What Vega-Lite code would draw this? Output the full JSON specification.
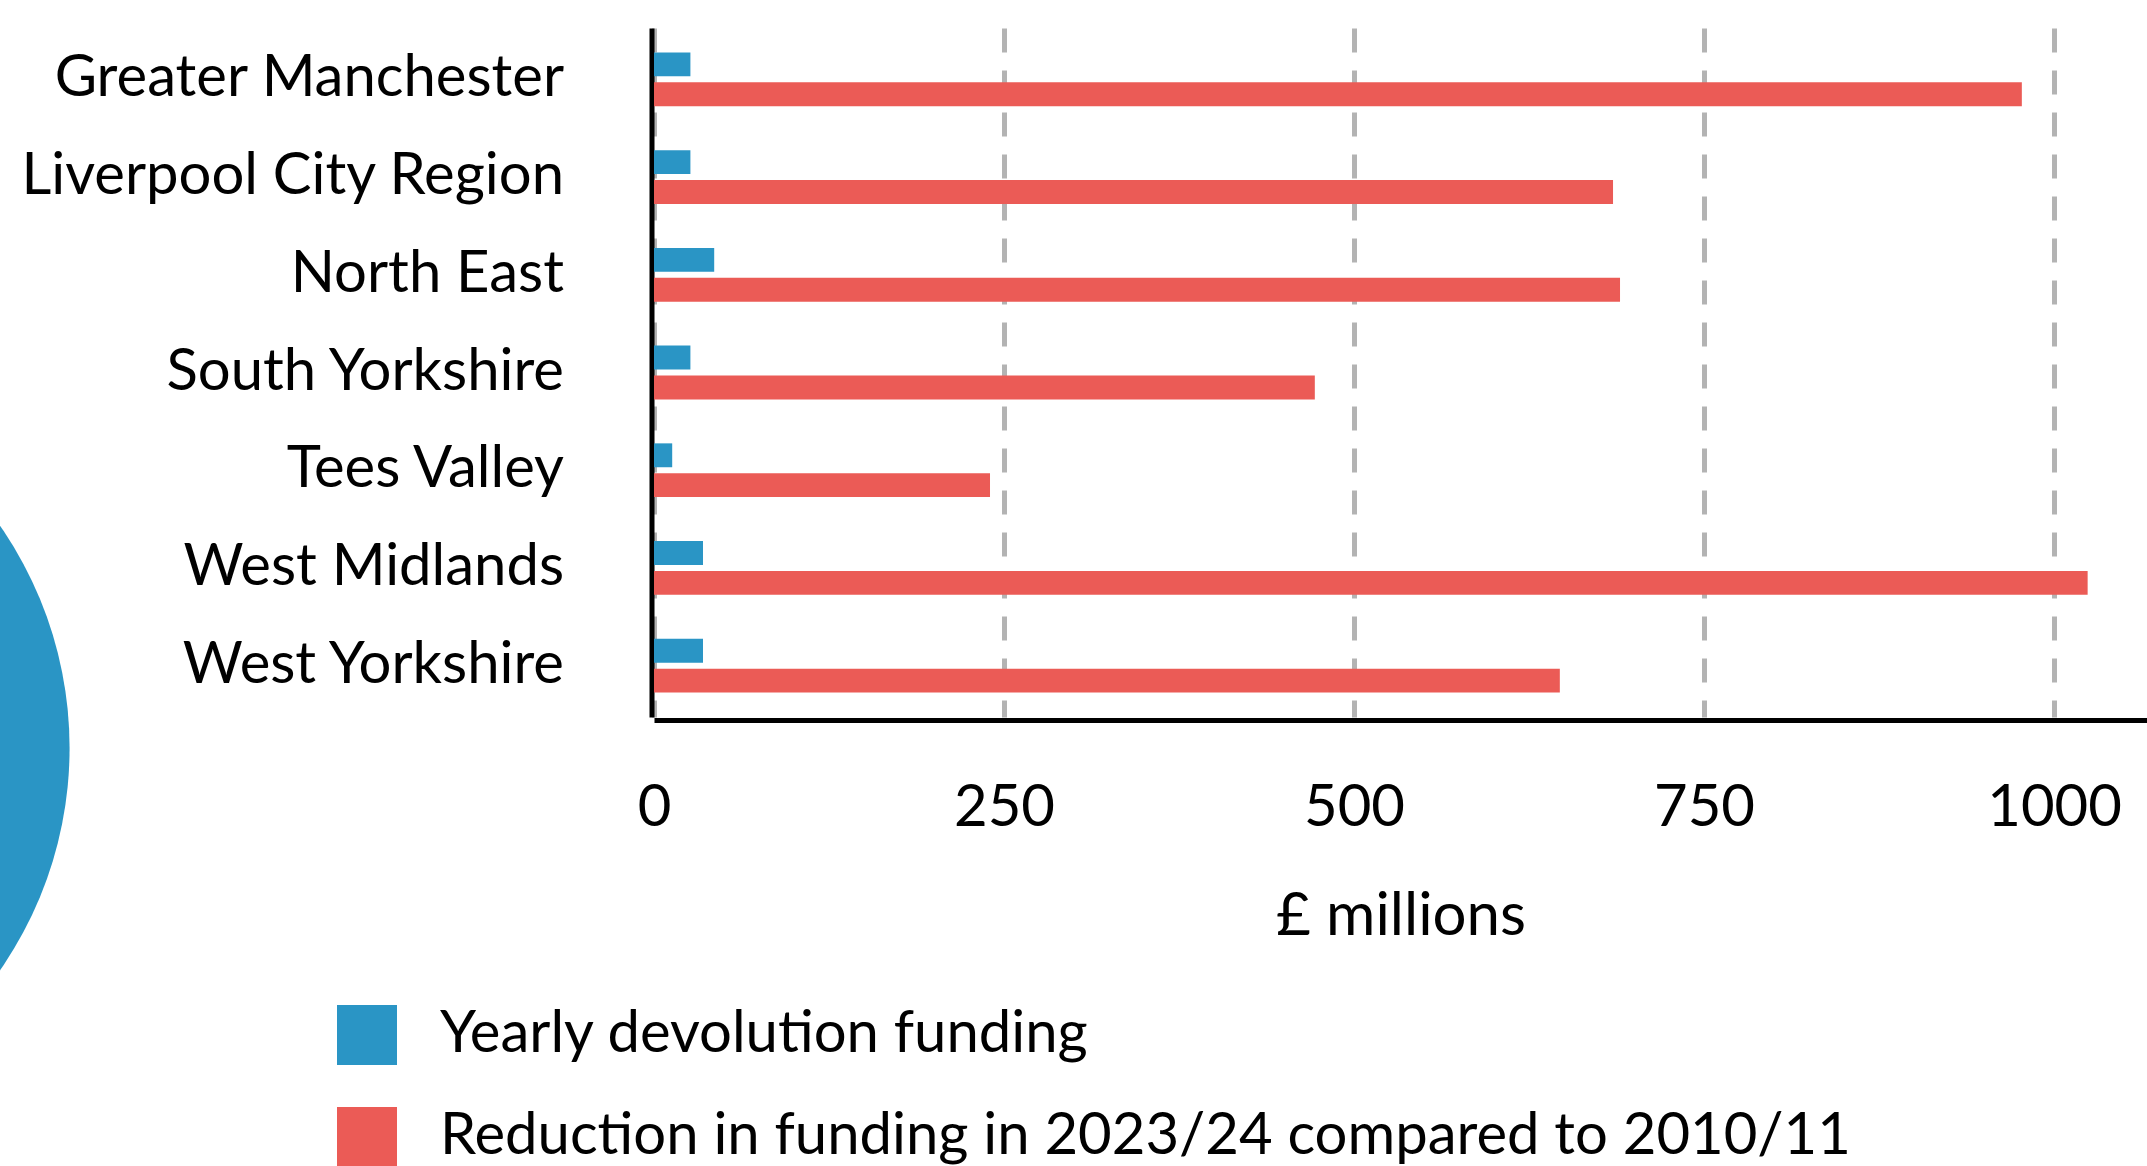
{
  "$schema": "https://vega.github.io/schema/vega-lite/v6.json",
  "autosize": {"type": "none"},
  "width": 1493,
  "height": 689,
  "padding": {"left": 654, "top": 28, "right": 0, "bottom": 449},
  "background": "white",
  "config": {"view": {"stroke": null}, "font": "Lato"},
  "layer": [
    {
      "data": {"values": [{"item": "decoration"}]},
      "mark": {"type": "point", "filled": true, "shape": "circle", "size": 608400, "color": "#2a95c5", "opacity": 1, "strokeWidth": 0},
      "encoding": {
        "x": {"datum": -696, "type": "quantitative", "title": "£ millions", "scale": {"domain": [0, 1066.4], "nice": false}},
        "y": {"datum": -0.045, "type": "quantitative", "scale": {"domain": [0, 1], "nice": false, "zero": false}, "axis": null}
      }
    },
    {
      "data": {"values": [
        {"region": "Greater Manchester", "series": "Yearly devolution funding", "value": 26},
        {"region": "Greater Manchester", "series": "Reduction in funding in 2023/24 compared to 2010/11", "value": 977},
        {"region": "Liverpool City Region", "series": "Yearly devolution funding", "value": 26},
        {"region": "Liverpool City Region", "series": "Reduction in funding in 2023/24 compared to 2010/11", "value": 685},
        {"region": "North East", "series": "Yearly devolution funding", "value": 43},
        {"region": "North East", "series": "Reduction in funding in 2023/24 compared to 2010/11", "value": 690},
        {"region": "South Yorkshire", "series": "Yearly devolution funding", "value": 26},
        {"region": "South Yorkshire", "series": "Reduction in funding in 2023/24 compared to 2010/11", "value": 472},
        {"region": "Tees Valley", "series": "Yearly devolution funding", "value": 13},
        {"region": "Tees Valley", "series": "Reduction in funding in 2023/24 compared to 2010/11", "value": 240},
        {"region": "West Midlands", "series": "Yearly devolution funding", "value": 35},
        {"region": "West Midlands", "series": "Reduction in funding in 2023/24 compared to 2010/11", "value": 1024},
        {"region": "West Yorkshire", "series": "Yearly devolution funding", "value": 35},
        {"region": "West Yorkshire", "series": "Reduction in funding in 2023/24 compared to 2010/11", "value": 647}
      ]},
      "mark": {"type": "bar"},
      "encoding": {
        "y": {
          "field": "region", "type": "nominal", "sort": null,
          "scale": {"paddingInner": 0.45, "paddingOuter": 0.25},
          "axis": {"title": null, "domainColor": "black", "domainWidth": 5, "offset": 2.5, "ticks": false, "tickSize": 0, "labelFontSize": 58, "labelColor": "black", "labelPadding": 88, "labelLimit": 0}
        },
        "yOffset": {"field": "series", "type": "nominal", "sort": null, "scale": {"paddingInner": 0.2, "paddingOuter": 0}},
        "x": {
          "field": "value", "type": "quantitative", "title": "£ millions",
          "scale": {"domain": [0, 1066.4], "nice": false},
          "axis": {"values": [0, 250, 500, 750, 1000], "format": "d", "domainColor": "black", "domainWidth": 5, "offset": 3, "ticks": false, "tickSize": 0, "labelFontSize": 58, "labelColor": "black", "labelPadding": 59, "labelFlush": false, "grid": true, "gridColor": "#b3b3b3", "gridWidth": 5, "gridDash": [24, 18], "titleFontSize": 60, "titleFontWeight": "normal", "titleColor": "black", "titlePadding": 50}
        },
        "color": {
          "field": "series", "type": "nominal", "sort": null,
          "scale": {"domain": ["Yearly devolution funding", "Reduction in funding in 2023/24 compared to 2010/11"], "range": ["#2a95c5", "#eb5b56"]},
          "legend": {"orient": "none", "legendX": -317, "legendY": 977, "title": null, "symbolType": "square", "symbolSize": 3600, "symbolStrokeWidth": 0, "symbolOpacity": 1, "labelFontSize": 58, "labelColor": "black", "labelOffset": 43, "rowPadding": 42, "labelLimit": 0}
        }
      }
    }
  ],
  "resolve": {"scale": {"y": "independent"}, "axis": {"y": "independent"}}
}
